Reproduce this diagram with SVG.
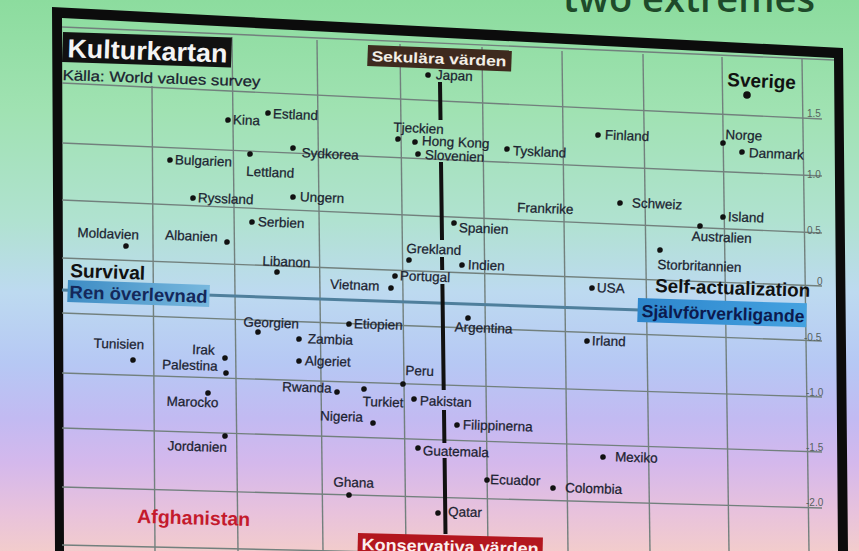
<svg xmlns="http://www.w3.org/2000/svg" width="859" height="551" viewBox="0 0 859 551">
<defs>
<linearGradient id="bg" x1="0" y1="0" x2="0" y2="1">
<stop offset="0" stop-color="#8cdc9e"/>
<stop offset="0.2" stop-color="#a0e2b2"/>
<stop offset="0.4" stop-color="#b0e2d0"/>
<stop offset="0.53" stop-color="#bddaf0"/>
<stop offset="0.66" stop-color="#b6c8f4"/>
<stop offset="0.76" stop-color="#c2baf2"/>
<stop offset="0.84" stop-color="#d4b8ec"/>
<stop offset="0.93" stop-color="#e8c2dc"/>
<stop offset="1" stop-color="#f2cccc"/>
</linearGradient>
<linearGradient id="blueL" x1="0" y1="0" x2="1" y2="0">
<stop offset="0" stop-color="#3d8cc4"/>
<stop offset="1" stop-color="#78b8de"/>
</linearGradient>
<linearGradient id="blueR" x1="0" y1="0" x2="1" y2="0">
<stop offset="0" stop-color="#2d86cc"/>
<stop offset="1" stop-color="#45a2e0"/>
</linearGradient>
<style>
.lbl{font-family:"Liberation Sans",Arial,sans-serif;font-size:13.5px;fill:#1b2230;stroke:#1b2230;stroke-width:0.25}
.dot{fill:#111}
.grid{stroke:#72807d;stroke-width:1.4;fill:none}
.axis{stroke:#111;stroke-width:4;fill:none}
.tick{font-family:"Liberation Sans",Arial,sans-serif;font-size:10px;fill:#56625f}
.big{font-family:"Liberation Sans",Arial,sans-serif;font-weight:bold}
</style>
</defs>
<rect width="859" height="551" fill="url(#bg)"/>
<text x="563" y="12" font-family="'Open Sans','Liberation Sans',sans-serif" font-weight="600" font-size="38" fill="#1e4a2a">two extremes</text>
<path d="M52,7 L843,48 L848,551 L55,551 Z M62,18 L834,58 L838,551 L64,551 Z" fill="#0c0c0c" fill-rule="evenodd"/>
<g id="grid">
<line class="grid" x1="62" y1="27" x2="834" y2="60"/>
<line class="grid" x1="62" y1="83" x2="822" y2="119"/>
<line class="grid" x1="62" y1="143" x2="822" y2="176"/>
<line class="grid" x1="62" y1="200" x2="822" y2="233"/>
<line class="grid" x1="62" y1="258" x2="822" y2="286"/>
<line class="grid" x1="62" y1="313" x2="822" y2="341"/>
<line class="grid" x1="62" y1="373" x2="822" y2="397"/>
<line class="grid" x1="62" y1="428" x2="822" y2="452"/>
<line class="grid" x1="62" y1="487" x2="822" y2="508"/>
<line class="grid" x1="62" y1="545" x2="836" y2="562"/>
<line class="grid" x1="152" y1="86" x2="155" y2="551"/>
<line class="grid" x1="232" y1="37" x2="238" y2="551"/>
<line class="grid" x1="317" y1="40" x2="323" y2="551"/>
<line class="grid" x1="400" y1="44" x2="406" y2="551"/>
<line class="grid" x1="482" y1="47" x2="488" y2="551"/>
<line class="grid" x1="562" y1="51" x2="568" y2="551"/>
<line class="grid" x1="643" y1="54" x2="650" y2="551"/>
<line class="grid" x1="722" y1="57" x2="729" y2="551"/>
<line class="grid" x1="802" y1="59" x2="809" y2="551"/>
</g>
<g id="ticks">
<text class="tick" x="807" y="117">1.5</text>
<text class="tick" x="807" y="178">1.0</text>
<text class="tick" x="807" y="234">0.5</text>
<text class="tick" x="817" y="285" font-size="9">0</text>
<text class="tick" x="804" y="341">-0.5</text>
<text class="tick" x="806" y="396">-1.0</text>
<text class="tick" x="806" y="451">-1.5</text>
<text class="tick" x="806" y="506">-2.0</text>
</g>
<g id="connectors">
<line x1="62" y1="290" x2="640" y2="310" stroke="#4f7f9c" stroke-width="3"/>
<path class="axis" d="M440,82 L440.5,120 M441,162 L442,240 M442,257 L442.2,270 M442.4,284 L443.7,390 M444,410 L444.4,443 M444.6,458 L445.5,534"/>
</g>
<g id="title-box" transform="rotate(1.9 63 32)">
<rect x="63" y="32" width="169" height="30" fill="#111"/>
<text class="big" x="68" y="57" font-size="26" fill="#f4f4f4" textLength="160" lengthAdjust="spacingAndGlyphs">Kulturkartan</text>
<text x="64" y="80" font-family="'Liberation Sans',Arial,sans-serif" font-size="14.5" fill="#1b2230" stroke="#1b2230" stroke-width="0.25" textLength="198" lengthAdjust="spacingAndGlyphs">Källa: World values survey</text>
</g>
<g id="sekulara" transform="rotate(2.2 368 45)">
<rect x="368" y="45" width="144" height="21" fill="#3e2a1e"/>
<text class="big" x="372" y="61" font-size="14.5" fill="#f2eee6" textLength="135" lengthAdjust="spacingAndGlyphs">Sekulära värden</text>
</g>
<g id="konservativa" transform="rotate(1.4 358 533)">
<rect x="358" y="533" width="185" height="24" fill="#b3161e"/>
<text class="big" x="362" y="550" font-size="16.5" fill="#fbeeee" textLength="177" lengthAdjust="spacingAndGlyphs">Konservativa värden</text>
</g>
<g id="survival">
<text class="big" x="70" y="277" font-size="19" fill="#111" textLength="75" lengthAdjust="spacingAndGlyphs" transform="rotate(2 70 277)">Survival</text>
<g transform="rotate(2 68 280)">
<rect x="68" y="280" width="142" height="22" fill="url(#blueL)"/>
<text class="big" x="70" y="298" font-size="18" fill="#14285a" textLength="138" lengthAdjust="spacingAndGlyphs">Ren överlevnad</text>
</g>
</g>
<g id="self">
<text class="big" x="655" y="292" font-size="19" fill="#111" textLength="155" lengthAdjust="spacingAndGlyphs" transform="rotate(1.8 655 292)">Self-actualization</text>
<g transform="rotate(1.8 638 298)">
<rect x="638" y="298" width="169" height="24" fill="url(#blueR)"/>
<text class="big" x="642" y="317" font-size="17.5" fill="#0c1a4e" textLength="163" lengthAdjust="spacingAndGlyphs">Självförverkligande</text>
</g>
</g>
<g id="sverige"><text class="big" x="727" y="86" font-size="19" fill="#111" transform="rotate(2.5 727 86)">Sverige</text><circle class="dot" cx="747" cy="95" r="3.8"/></g>
<g id="afghanistan"><text class="big" x="137" y="523" font-size="19.5" fill="#c41a2c" textLength="113" lengthAdjust="spacingAndGlyphs" transform="rotate(1.5 137 523)">Afghanistan</text></g>
<g id="japan" transform="rotate(2.6 428 75)"><circle class="dot" cx="428" cy="75" r="2.8"/><text class="lbl" x="436" y="79">Japan</text></g>
<g id="kina" transform="rotate(2.5 228 120)"><circle class="dot" cx="228" cy="120" r="2.8"/><text class="lbl" x="233" y="124">Kina</text></g>
<g id="estland" transform="rotate(2.5 268 113)"><circle class="dot" cx="268" cy="113" r="2.8"/><text class="lbl" x="273" y="118">Estland</text></g>
<g id="sydkorea" transform="rotate(2.4 293 148)"><circle class="dot" cx="293" cy="148" r="2.8"/><text class="lbl" x="302" y="157">Sydkorea</text></g>
<g id="bulgarien" transform="rotate(2.4 170 160)"><circle class="dot" cx="170" cy="160" r="2.8"/><text class="lbl" x="175" y="164">Bulgarien</text></g>
<g id="lettland" transform="rotate(2.4 250 154)"><circle class="dot" cx="250" cy="154" r="2.8"/><text class="lbl" x="247" y="176">Lettland</text></g>
<g id="tjeckien" transform="rotate(2.5 398 139)"><circle class="dot" cx="398" cy="139" r="2.8"/><text class="lbl" x="393" y="132">Tjeckien</text></g>
<g id="hongkong" transform="rotate(2.5 415 142)"><circle class="dot" cx="415" cy="142" r="2.8"/><text class="lbl" x="422" y="145">Hong Kong</text></g>
<g id="slovenien" transform="rotate(2.5 418 154)"><circle class="dot" cx="418" cy="154" r="2.8"/><text class="lbl" x="425" y="159">Slovenien</text></g>
<g id="tyskland" transform="rotate(2.4 507 149)"><circle class="dot" cx="507" cy="149" r="2.8"/><text class="lbl" x="513" y="155">Tyskland</text></g>
<g id="finland" transform="rotate(2.4 598 135)"><circle class="dot" cx="598" cy="135" r="2.8"/><text class="lbl" x="605" y="139">Finland</text></g>
<g id="norge" transform="rotate(2.4 723 143)"><circle class="dot" cx="723" cy="143" r="2.8"/><text class="lbl" x="725" y="139">Norge</text></g>
<g id="danmark" transform="rotate(2.4 742 152)"><circle class="dot" cx="742" cy="152" r="2.8"/><text class="lbl" x="749" y="157">Danmark</text></g>
<g id="ryssland" transform="rotate(2.3 193 198)"><circle class="dot" cx="193" cy="198" r="2.8"/><text class="lbl" x="198" y="202">Ryssland</text></g>
<g id="ungern" transform="rotate(2.3 293 197)"><circle class="dot" cx="293" cy="197" r="2.8"/><text class="lbl" x="300" y="201">Ungern</text></g>
<g id="serbien" transform="rotate(2.2 252 222)"><circle class="dot" cx="252" cy="222" r="2.8"/><text class="lbl" x="258" y="226">Serbien</text></g>
<g id="moldavien" transform="rotate(2.2 126 246)"><circle class="dot" cx="126" cy="246" r="2.8"/><text class="lbl" x="77" y="239">Moldavien</text></g>
<g id="albanien" transform="rotate(2.2 227 242)"><circle class="dot" cx="227" cy="242" r="2.8"/><text class="lbl" x="165" y="242">Albanien</text></g>
<g id="libanon" transform="rotate(2.1 277 272)"><circle class="dot" cx="277" cy="272" r="2.8"/><text class="lbl" x="262" y="266">Libanon</text></g>
<g id="vietnam" transform="rotate(2.1 391 288)"><circle class="dot" cx="391" cy="288" r="2.8"/><text class="lbl" x="330" y="291">Vietnam</text></g>
<g id="grekland" transform="rotate(2.1 409 260)"><circle class="dot" cx="409" cy="260" r="2.8"/><text class="lbl" x="406" y="253">Grekland</text></g>
<g id="portugal" transform="rotate(2.1 395 276)"><circle class="dot" cx="395" cy="276" r="2.8"/><text class="lbl" x="400" y="280">Portugal</text></g>
<g id="indien" transform="rotate(2.1 462 265)"><circle class="dot" cx="462" cy="265" r="2.8"/><text class="lbl" x="468" y="269">Indien</text></g>
<g id="spanien" transform="rotate(2.2 454 223)"><circle class="dot" cx="454" cy="223" r="2.8"/><text class="lbl" x="459" y="232">Spanien</text></g>
<g id="frankrike" transform="rotate(2.2 517 212)"><text class="lbl" x="517" y="212">Frankrike</text></g>
<g id="schweiz" transform="rotate(2.2 620 203)"><circle class="dot" cx="620" cy="203" r="2.8"/><text class="lbl" x="632" y="207">Schweiz</text></g>
<g id="island" transform="rotate(2.2 723 217)"><circle class="dot" cx="723" cy="217" r="2.8"/><text class="lbl" x="728" y="221">Island</text></g>
<g id="australien" transform="rotate(2.2 700 226)"><circle class="dot" cx="700" cy="226" r="2.8"/><text class="lbl" x="692" y="241">Australien</text></g>
<g id="storbritannien" transform="rotate(2.1 660 250)"><circle class="dot" cx="660" cy="250" r="2.8"/><text class="lbl" x="658" y="269">Storbritannien</text></g>
<g id="usa" transform="rotate(2 592 288)"><circle class="dot" cx="592" cy="288" r="2.8"/><text class="lbl" x="597" y="292">USA</text></g>
<g id="argentina" transform="rotate(2 468 318)"><circle class="dot" cx="468" cy="318" r="2.8"/><text class="lbl" x="455" y="332">Argentina</text></g>
<g id="irland" transform="rotate(2 587 341)"><circle class="dot" cx="587" cy="341" r="2.8"/><text class="lbl" x="592" y="345">Irland</text></g>
<g id="georgien" transform="rotate(2 258 332)"><circle class="dot" cx="258" cy="332" r="2.8"/><text class="lbl" x="243" y="327">Georgien</text></g>
<g id="etiopien" transform="rotate(2 349 324)"><circle class="dot" cx="349" cy="324" r="2.8"/><text class="lbl" x="354" y="328">Etiopien</text></g>
<g id="zambia" transform="rotate(2 299 339)"><circle class="dot" cx="299" cy="339" r="2.8"/><text class="lbl" x="308" y="343">Zambia</text></g>
<g id="algeriet" transform="rotate(1.9 299 361)"><circle class="dot" cx="299" cy="361" r="2.8"/><text class="lbl" x="305" y="365">Algeriet</text></g>
<g id="peru" transform="rotate(1.9 403 384)"><circle class="dot" cx="403" cy="384" r="2.8"/><text class="lbl" x="405" y="375">Peru</text></g>
<g id="rwanda" transform="rotate(1.9 337 392)"><circle class="dot" cx="337" cy="392" r="2.8"/><text class="lbl" x="282" y="393">Rwanda</text></g>
<g id="turkiet" transform="rotate(1.9 364 389)"><circle class="dot" cx="364" cy="389" r="2.8"/><text class="lbl" x="363" y="406">Turkiet</text></g>
<g id="pakistan" transform="rotate(1.9 414 399)"><circle class="dot" cx="414" cy="399" r="2.8"/><text class="lbl" x="420" y="405">Pakistan</text></g>
<g id="nigeria" transform="rotate(1.8 373 423)"><circle class="dot" cx="373" cy="423" r="2.8"/><text class="lbl" x="320" y="422">Nigeria</text></g>
<g id="filippinerna" transform="rotate(1.8 457 425)"><circle class="dot" cx="457" cy="425" r="2.8"/><text class="lbl" x="463" y="429">Filippinerna</text></g>
<g id="tunisien" transform="rotate(1.9 133 360)"><circle class="dot" cx="133" cy="360" r="2.8"/><text class="lbl" x="93" y="349">Tunisien</text></g>
<g id="irak" transform="rotate(1.9 225 358)"><circle class="dot" cx="225" cy="358" r="2.8"/><text class="lbl" x="192" y="355">Irak</text></g>
<g id="palestina" transform="rotate(1.9 226 373)"><circle class="dot" cx="226" cy="373" r="2.8"/><text class="lbl" x="162" y="371">Palestina</text></g>
<g id="marocko" transform="rotate(1.9 208 393)"><circle class="dot" cx="208" cy="393" r="2.8"/><text class="lbl" x="167" y="407">Marocko</text></g>
<g id="jordanien" transform="rotate(1.8 225 436)"><circle class="dot" cx="225" cy="436" r="2.8"/><text class="lbl" x="168" y="452">Jordanien</text></g>
<g id="ghana" transform="rotate(1.6 349 495)"><circle class="dot" cx="349" cy="495" r="2.8"/><text class="lbl" x="333" y="487">Ghana</text></g>
<g id="guatemala" transform="rotate(1.7 418 448)"><circle class="dot" cx="418" cy="448" r="2.8"/><text class="lbl" x="423" y="455">Guatemala</text></g>
<g id="ecuador" transform="rotate(1.6 487 480)"><circle class="dot" cx="487" cy="480" r="2.8"/><text class="lbl" x="490" y="484">Ecuador</text></g>
<g id="colombia" transform="rotate(1.6 553 488)"><circle class="dot" cx="553" cy="488" r="2.8"/><text class="lbl" x="565" y="492">Colombia</text></g>
<g id="mexiko" transform="rotate(1.7 603 457)"><circle class="dot" cx="603" cy="457" r="2.8"/><text class="lbl" x="615" y="461">Mexiko</text></g>
<g id="qatar" transform="rotate(1.5 438 513)"><circle class="dot" cx="438" cy="513" r="2.8"/><text class="lbl" x="448" y="516">Qatar</text></g>
</svg>
